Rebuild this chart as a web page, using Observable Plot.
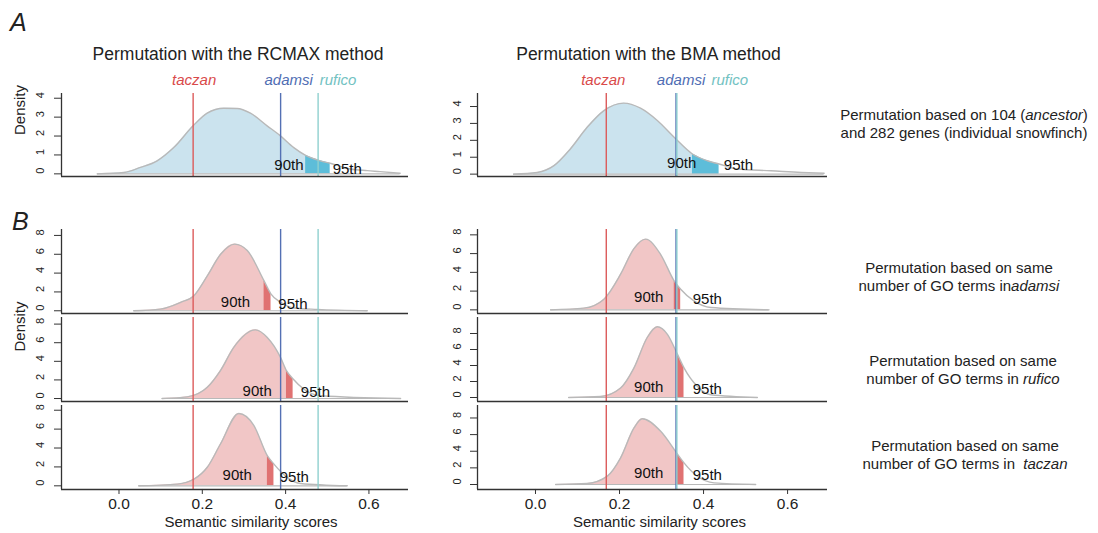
<!DOCTYPE html>
<html>
<head>
<meta charset="utf-8">
<script src="https://cdn.jsdelivr.net/npm/d3@7"></script>
<script src="https://cdn.jsdelivr.net/npm/@observablehq/plot@0.6"></script>
<style>
  body { margin: 0; background: #fff; font-family: "Liberation Sans", Arial, sans-serif; color: #222; }
  #chart { position: relative; width: 1098px; height: 533px; overflow: hidden; background: #fff; }
  #chart svg { position: absolute; }
  .lbl { position: absolute; white-space: nowrap; }
  .panel-letter { font-size: 25px; font-style: italic; color: #222; }
  .note { font-size: 15px; line-height: 18px; text-align: center; color: #222; }
</style>
</head>
<body>
<div id="chart"></div>
<script>
// ---------- data ----------
const species = ["taczan", "adamsi", "rufico"];
const speciesColors = ["#dc5b5b", "#5470b4", "#8fd0cf"];
const speciesTextColors = ["#d94a4a", "#4f6db3", "#72c2c2"];
const scoresRCMAX = [0.178, 0.388, 0.478];
const scoresBMA = [0.1685, 0.3345, 0.3365];
const xTicks = [0, 0.2, 0.4, 0.6];
const yTicksA = [0, 1, 2, 3, 4];
const yTicksB = [0, 2, 4, 6, 8];
const xDomain = [-0.138, 0.695];

// Density curves [score, density]
const densA_RCMAX = [[-0.052,0],[0.0116,0.07],[0.0516,0.34],[0.0917,0.69],[0.1315,1.39],[0.178,2.54],[0.2117,3.21],[0.2515,3.47],[0.2835,3.46],[0.3156,3.21],[0.3556,2.54],[0.3876,2.01],[0.4196,1.39],[0.448,0.98],[0.4835,0.69],[0.507,0.56],[0.555,0.26],[0.596,0.17],[0.627,0.12],[0.675,0.03]];
const densA_BMA = [[-0.052,0],[0.004,0.1],[0.044,0.5],[0.083,1.49],[0.123,2.77],[0.163,3.76],[0.21,4.2],[0.25,3.9],[0.29,3.17],[0.33,2.18],[0.3735,1.19],[0.409,0.79],[0.437,0.6],[0.48,0.3],[0.56,0.2],[0.632,0.1],[0.687,0.05]];
const densB_RCMAX_adamsi = [[0.0356,0],[0.0996,0.18],[0.148,0.9],[0.18,1.6],[0.212,3.7],[0.244,6.0],[0.278,7.08],[0.308,6.4],[0.348,3.2],[0.365,1.77],[0.388,0.9],[0.42,0.3],[0.476,0.15],[0.596,0]];
const densB_RCMAX_rufico = [[0.1036,0],[0.164,0.18],[0.212,1.2],[0.2436,3.0],[0.2756,5.5],[0.3276,7.38],[0.356,6.56],[0.388,4.4],[0.402,3.0],[0.418,2.1],[0.444,1.0],[0.484,0.3],[0.676,0]];
const densB_RCMAX_taczan = [[0.0476,0],[0.14,0.18],[0.18,0.7],[0.212,1.96],[0.244,4.45],[0.2876,7.65],[0.3236,6.4],[0.356,3.2],[0.372,2.3],[0.404,0.9],[0.436,0.25],[0.548,0]];
const densB_BMA_adamsi = [[0.036,0],[0.115,0.18],[0.163,1.14],[0.2026,3.8],[0.234,6.5],[0.262,7.54],[0.298,5.9],[0.33,3.1],[0.3456,2.2],[0.377,0.96],[0.417,0.25],[0.556,0]];
const densB_BMA_rufico = [[0.079,0],[0.155,0.13],[0.2026,1.18],[0.2345,3.7],[0.266,7.5],[0.29,8.84],[0.314,7.9],[0.338,5.4],[0.3535,3.7],[0.385,1.4],[0.417,0.34],[0.528,0]];
const densB_BMA_taczan = [[0.048,0],[0.123,0.12],[0.171,1.0],[0.2026,3.2],[0.2345,6.8],[0.254,7.9],[0.298,6.4],[0.336,3.8],[0.3535,2.6],[0.385,1.0],[0.425,0.2],[0.524,0]];

// 90th / 95th percentile cut-offs [p90, p95]
const pctA_RCMAX = [0.448, 0.507];
const pctA_BMA = [0.3735, 0.437];
const pctB_RCMAX = [[0.348, 0.365], [0.402, 0.418], [0.356, 0.372]];
const pctB_BMA = [[0.33, 0.3456], [0.338, 0.3535], [0.336, 0.3535]];

// percentile label anchors [x90, y90, x95, y95]
const pctLabA_RCMAX = [0.408, 0.44, 0.548, 0.26];
const pctLabA_BMA = [0.348, 0.63, 0.483, 0.55];
const pctLabB_RCMAX = [[0.2796, 0.88, 0.4176, 0.7], [0.3317, 0.83, 0.4716, 0.65], [0.2837, 1.17, 0.421, 0.89]];
const pctLabB_BMA = [[0.2694, 1.3, 0.409, 1.14], [0.2694, 1.27, 0.409, 1.1], [0.2694, 1.32, 0.409, 1.12]];

const titles = ["Permutation with the RCMAX method", "Permutation with the BMA method"];
const xLabel = "Semantic similarity scores";
const yLabel = "Density";

// ---------- drawing ----------
const FONT = "'Liberation Sans', Arial, sans-serif";
const outline = "#b9b9b9";
const axisColor = "#333";
const curve = "monotone-x";
const chart = document.getElementById("chart");

function panel(o) {
  const pts = o.data.map(([x, y]) => ({x, y}));
  const [p90, p95] = o.pct;
  const eps = 1e-9;
  const seg1 = pts.filter(d => d.x <= p90 + eps);
  const seg2 = pts.filter(d => d.x >= p90 - eps && d.x <= p95 + eps);
  const [x90, y90, x95, y95] = o.pctLab;
  const marks = [
    Plot.areaY(pts, {x: "x", y: "y", fill: "white", curve}),
    Plot.areaY(seg1, {x: "x", y: "y", fill: o.light, curve}),
    Plot.areaY(seg2, {x: "x", y: "y", fill: o.dark, curve}),
    Plot.ruleY([0], {x1: pts[0].x, x2: pts[pts.length - 1].x, stroke: outline, strokeWidth: 1.2}),
    Plot.lineY(pts, {x: "x", y: "y", stroke: outline, strokeWidth: 1.4, curve})
  ];
  o.scores.forEach((s, i) => {
    marks.push(Plot.ruleX([s], {stroke: speciesColors[i], strokeWidth: 1.4}));
  });
  marks.push(
    Plot.text(["90th"], {x: x90, y: y90, text: d => d, fontSize: 15, fill: "#111"}),
    Plot.text(["95th"], {x: x95, y: y95, text: d => d, fontSize: 15, fill: "#111"}),
    Plot.ruleX([xDomain[0]], {stroke: axisColor, strokeWidth: 1.3}),
    Plot.ruleY([o.yDomain[0]], {stroke: axisColor, strokeWidth: 1.5}),
    Plot.axisY({ticks: o.yTicks, tickSize: 7, tickFormat: () => "", label: null, stroke: axisColor}),
    Plot.text(o.yTicks, {y: d => d, text: d => String(d), frameAnchor: "left", dx: o.tickDx, rotate: -90, fontSize: 11, fill: "#222"})
  );
  if (o.xAxis) {
    marks.push(
      Plot.axisX({ticks: xTicks, tickSize: 5, tickPadding: 3, tickFormat: d3.format(".1f"), fontSize: 15.5, label: null, stroke: axisColor, fill: "#222"}),
      Plot.text([xLabel], {frameAnchor: "bottom", lineAnchor: "middle", dy: 33, dx: o.xLabelDx, fontSize: 15, fill: "#222"})
    );
  }
  if (o.title) {
    marks.push(Plot.text([o.title], {frameAnchor: "top", lineAnchor: "middle", dy: -39, dx: o.titleDx, fontSize: 17.5, fill: "#222"}));
    o.scores.forEach((s, i) => {
      marks.push(Plot.text([species[i]], {x: s, frameAnchor: "top", lineAnchor: "middle", dy: -13, dx: o.spDx[i], text: d => d, fontSize: 15, fontStyle: "italic", fill: speciesTextColors[i]}));
    });
  }
  if (o.yLab) {
    marks.push(Plot.text([yLabel], {frameAnchor: "left", dx: -41, dy: o.yLabDy || 0, rotate: -90, fontSize: 15, fill: "#222"}));
  }
  const svg = Plot.plot({
    width: o.width, height: o.height,
    marginTop: o.mt, marginBottom: o.mb, marginLeft: o.ml, marginRight: o.mr,
    x: {domain: xDomain, axis: o.xAxis ? undefined : null},
    y: {domain: o.yDomain},
    style: {background: "transparent", overflow: "visible", fontFamily: FONT, color: axisColor},
    marks
  });
  svg.style.left = o.left + "px";
  svg.style.top = o.top + "px";
  chart.appendChild(svg);
}

const colL = {left: 0, width: 420, ml: 61, mr: 12, tickDx: -21, xLabelDx: 16, titleDx: 3, scores: scoresRCMAX};
const colR = {left: 420, width: 420, ml: 57, mr: 13, tickDx: -20, xLabelDx: 7, titleDx: -4, scores: scoresBMA};

// Panel A
panel({...colL, top: 40, height: 145, mt: 53, mb: 9, data: densA_RCMAX, pct: pctA_RCMAX, pctLab: pctLabA_RCMAX,
  yDomain: [-0.14, 4.25], yTicks: yTicksA, light: "#cbe3ee", dark: "#5dbdd9", title: titles[0], spDx: [1, 8, 20], yLab: true});
panel({...colR, top: 40, height: 145, mt: 53, mb: 9, data: densA_BMA, pct: pctA_BMA, pctLab: pctLabA_BMA,
  yDomain: [-0.14, 4.77], yTicks: yTicksA, light: "#cbe3ee", dark: "#5dbdd9", title: titles[1], spDx: [-3, 5, 53]});

// Panel B
const rowTops = [224.7, 312.7, 400.7];
const dataL = [densB_RCMAX_adamsi, densB_RCMAX_rufico, densB_RCMAX_taczan];
const dataR = [densB_BMA_adamsi, densB_BMA_rufico, densB_BMA_taczan];
const yDomL = [[-0.29, 8.63], [-0.32, 8.71], [-0.39, 8.5]];
const yDomR = [[-0.39, 8.57], [-0.5, 10.0], [-0.6, 9.5]];
for (let r = 0; r < 3; r++) {
  const last = r === 2;
  const common = {top: rowTops[r], height: last ? 132.3 : 92, mt: 4, mb: last ? 44.3 : 4, yTicks: yTicksB,
    light: "#f1c6c6", dark: "#e07272", xAxis: last};
  panel({...colL, ...common, data: dataL[r], pct: pctB_RCMAX[r], pctLab: pctLabB_RCMAX[r], yDomain: yDomL[r], yLab: r === 1, yLabDy: -8});
  panel({...colR, ...common, data: dataR[r], pct: pctB_BMA[r], pctLab: pctLabB_BMA[r], yDomain: yDomR[r]});
}

// HTML labels
function addDiv(cls, html, css) {
  const d = document.createElement("div");
  d.className = "lbl " + cls;
  d.innerHTML = html;
  Object.assign(d.style, css);
  chart.appendChild(d);
}
addDiv("panel-letter", "A", {left: "10px", top: "8px"});
addDiv("panel-letter", "B", {left: "12px", top: "207px"});
addDiv("note", "Permutation based on 104 (<i>ancestor</i>)<br>and 282 genes (individual snowfinch)", {left: "829px", width: "270px", top: "106px"});
addDiv("note", "Permutation based on same<br>number of GO terms in<i>adamsi</i>", {left: "824px", width: "270px", top: "259px"});
addDiv("note", "Permutation based on same<br>number of GO terms in <i>rufico</i>", {left: "828px", width: "270px", top: "352px"});
addDiv("note", "Permutation based on same<br>number of GO terms in &nbsp;<i>taczan</i>", {left: "830px", width: "270px", top: "437px"});
</script>
</body>
</html>
